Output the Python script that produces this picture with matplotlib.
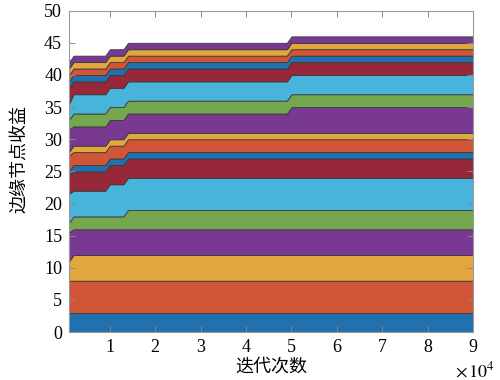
import matplotlib
matplotlib.use("Agg")
import matplotlib.pyplot as plt

plt.rcParams['font.family'] = ['Liberation Serif', 'Noto Sans CJK SC']
plt.rcParams['mathtext.fontset'] = 'stix'

# iteration points where the gains change
iters = [1000, 2000, 9000, 10000, 13000, 14000, 49000, 50000, 90000]

# gain of each edge node at those iterations (stacked bottom to top)
node_gain = [
    [3, 3, 3, 3, 3, 3, 3, 3, 3],
    [5, 5, 5, 5, 5, 5, 5, 5, 5],
    [3, 4, 4, 4, 4, 4, 4, 4, 4],
    [4.5, 4, 4, 4, 4, 4, 4, 4, 4],
    [1.5, 2, 2, 2, 2, 3, 3, 3, 3],
    [4.5, 4, 4, 5, 5, 5, 5, 5, 5],
    [3, 3, 3, 3, 3, 3, 3, 3, 3],
    [0.5, 1, 1, 1, 1, 1, 1, 1, 1],
    [2.5, 2, 2, 2, 2, 2, 2, 2, 2],
    [0.5, 1, 1, 1, 1, 1, 1, 1, 1],
    [3.5, 3, 3, 3, 3, 3, 3, 4, 4],
    [1.5, 2, 2, 2, 2, 2, 2, 2, 2],
    [2.5, 3, 3, 3, 3, 3, 3, 3, 3],
    [2.5, 2, 2, 2, 2, 2, 2, 2, 2],
    [1, 1, 1, 1, 1, 1, 1, 1, 1],
    [1, 1, 1, 1, 1, 1, 1, 1, 1],
    [1, 1, 1, 1, 1, 1, 1, 1, 1],
    [1, 1, 1, 1, 1, 1, 1, 1, 1],
]

palette = ['#2270ad', '#d15637', '#e2a63f', '#793891', '#75a74e', '#48b4dc', '#962839']
colors = [palette[i % 7] for i in range(len(node_gain))]

xticks = [10000, 20000, 30000, 40000, 50000, 60000, 70000, 80000, 90000]
xtick_labels = ['1', '2', '3', '4', '5', '6', '7', '8', '9']
yticks = [0, 5, 10, 15, 20, 25, 30, 35, 40, 45, 50]

fig = plt.figure(figsize=(5, 3.8), dpi=100)
ax = fig.add_axes([0.138, 0.126, 0.808, 0.846])

ax.stackplot(iters, node_gain, colors=colors, edgecolor='#3a3a3a', linewidth=0.6)

ax.set_xlim(1000, 90000)
ax.set_ylim(0, 50)
ax.set_xticks(xticks)
ax.set_xticklabels(xtick_labels)
ax.set_yticks(yticks)
ax.tick_params(direction='in', top=True, right=True, labelsize=13,
               color='#888888', length=4, width=0.7, pad=5)
for s in ax.spines.values():
    s.set_color('#999999')
    s.set_linewidth(0.8)

ax.set_xlabel('迭代次数', fontsize=13, family=['Noto Sans CJK SC'], labelpad=1)
ax.set_ylabel('边缘节点收益', fontsize=13, family=['Noto Sans CJK SC'])
ax.yaxis.set_label_coords(-0.098, 0.54)
ax.text(1.005, -0.12, r'$\times\,10^4$', transform=ax.transAxes, fontsize=13,
        ha='center', va='center')

fig.savefig('out.png', dpi=100)
